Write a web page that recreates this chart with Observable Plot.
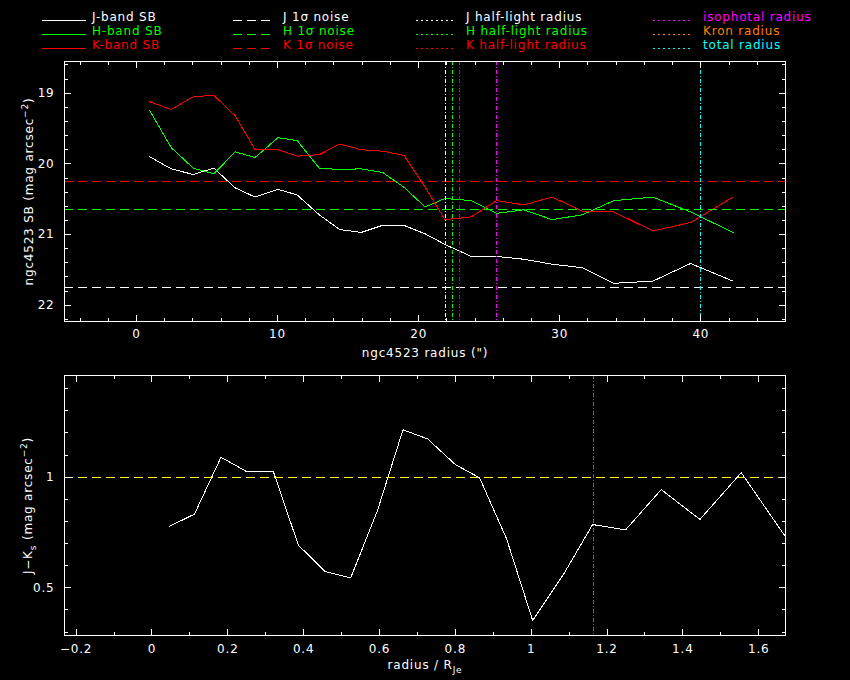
<!DOCTYPE html>
<html><head><meta charset="utf-8">
<script src="https://cdn.jsdelivr.net/npm/d3@7"></script>
<script src="https://cdn.jsdelivr.net/npm/@observablehq/plot@0.6"></script>
<style>
html,body{margin:0;padding:0;background:#000;}
#wrap{width:850px;height:680px;background:#000;overflow:hidden;}
svg{display:block;}
</style></head>
<body><div id="wrap"></div>
<script>
// ---------- data ----------
const radius = [0.94, 2.46, 4.02, 5.48, 7.0, 8.41, 10.02, 11.39, 12.95, 14.41, 15.93, 17.44, 18.95, 20.46, 21.86, 23.73, 25.52, 27.46, 29.46, 31.6, 33.84, 36.6, 39.27, 42.29];
const jSB = [19.90, 20.07, 20.15, 20.06, 20.34, 20.47, 20.36, 20.44, 20.72, 20.93, 20.97, 20.87, 20.87, 20.99, 21.14, 21.31, 21.31, 21.35, 21.42, 21.47, 21.69, 21.66, 21.41, 21.66];
const hSB = [19.245, 19.77, 20.06, 20.14, 19.83, 19.91, 19.63, 19.67, 20.06, 20.08, 20.07, 20.12, 20.33, 20.61, 20.49, 20.52, 20.70, 20.65, 20.79, 20.72, 20.52, 20.47, 20.68, 20.97];
const kSB = [19.12, 19.23, 19.05, 19.03, 19.32, 19.80, 19.80, 19.89, 19.87, 19.72, 19.80, 19.82, 19.88, 20.33, 20.79, 20.75, 20.52, 20.58, 20.47, 20.67, 20.68, 20.95, 20.83, 20.47];
const noiseJ = 21.75, noiseH = 20.65, noiseK = 20.25;
const halfLightJ = 21.9, halfLightH = 22.37, halfLightK = 22.87;
const isophotalRadius = 25.49, kronRadius = 40.0, totalRadius = 40.0;

const radiusNorm = [0.045, 0.112, 0.182, 0.249, 0.320, 0.386, 0.457, 0.524, 0.594, 0.662, 0.727, 0.800, 0.864, 0.935, 1.004, 1.085, 1.162, 1.249, 1.343, 1.445, 1.554, 1.671];
const jMinusK = [0.777, 0.833, 1.090, 1.026, 1.026, 0.693, 0.573, 0.545, 0.846, 1.214, 1.173, 1.057, 0.997, 0.722, 0.352, 0.56, 0.786, 0.762, 0.944, 0.809, 1.020, 0.73];
const colourRef = 1.0;
const isophotalNorm = 1.164;

const sbXTicks = [0, 10, 20, 30, 40];
const sbYTicks = [19, 20, 21, 22];
const cXTicks = [-0.2, 0, 0.2, 0.4, 0.6, 0.8, 1, 1.2, 1.4, 1.6];
const cYTicks = [0.5, 1];

const legendCol1 = ["J-band SB", "H-band SB", "K-band SB"];
const legendCol2 = ["J 1σ noise", "H 1σ noise", "K 1σ noise"];
const legendCol3 = ["J half-light radius", "H half-light radius", "K half-light radius"];
const legendCol4 = ["isophotal radius", "Kron radius", "total radius"];

// ---------- styles ----------
const WHITE = "#ffffff", GREEN = "#00ff00", RED = "#ff0000", MAGENTA = "#ff00ff", ORANGE = "#ff8000", CYAN = "#00ffff", YELLOW = "#ffff00";
const FONT = "DejaVu Sans";
const DASH = "9,5", DOT = "4,2,1,2";
const CRISP = "crispEdges";
const baseStyle = {background: "#000", color: "#fff", fontFamily: FONT, fontSize: "12px", letterSpacing: "0.8px", overflow: "visible"};
const fmt = d => String(d).replace("-", "−");

const wrap = d3.select("#wrap");

// ---------- legend ----------
const leg = wrap.append("svg").attr("width", 850).attr("height", 60)
  .style("font-family", FONT).style("font-size", "12px").style("letter-spacing", "0.8px");
const rowColors = [WHITE, GREEN, RED];
const cols = [
  {labels: legendCol1, colors: rowColors, x0: 42, x1: 86, tx: 92, dash: null},
  {labels: legendCol2, colors: rowColors, x0: 233, x1: 271, tx: 283, dash: DASH},
  {labels: legendCol3, colors: rowColors, x0: 416, x1: 456, tx: 466, dash: "2,3"},
  {labels: legendCol4, colors: [MAGENTA, ORANGE, CYAN], x0: 653, x1: 693, tx: 703, dash: "2,3"}
];
const rowY = [20.5, 34.5, 48.5];
cols.forEach(c => c.labels.forEach((lab, i) => {
  leg.append("line").attr("x1", c.x0).attr("x2", c.x1).attr("y1", rowY[i]).attr("y2", rowY[i])
    .attr("stroke", c.colors[i]).attr("stroke-width", 1).attr("stroke-dasharray", c.dash)
    .attr("shape-rendering", CRISP);
  leg.append("text").attr("x", c.tx).attr("y", rowY[i] + 0.5).attr("fill", c.colors[i]).text(lab);
}));

// ---------- helpers ----------
const tickShape = {draw(ctx, l) { ctx.moveTo(0, 0); ctx.lineTo(0, -l); }};
function frameTicks(xMaj, xMin, yMaj, yMin) {
  const v = (data, o) => Plot.vector(data, {shape: tickShape, anchor: "start", stroke: WHITE, strokeWidth: 1, shapeRendering: CRISP, ...o});
  const m = [];
  for (const [vals, len] of [[xMaj, 6.5], [xMin, 3.5]]) {
    m.push(v(vals, {x: d => d, frameAnchor: "bottom", length: len, rotate: 0}));
    m.push(v(vals, {x: d => d, frameAnchor: "top", length: len, rotate: 180}));
  }
  for (const [vals, len] of [[yMaj, 6.5], [yMin, 3.5]]) {
    m.push(v(vals, {y: d => d, frameAnchor: "left", length: len, rotate: 90}));
    m.push(v(vals, {y: d => d, frameAnchor: "right", length: len, rotate: -90}));
  }
  return m;
}
const notIn = arr => d => !arr.some(a => Math.abs(a - d) < 1e-6);
function richText(svg) {
  d3.select(svg).selectAll("text").each(function () {
    const s = this.textContent;
    if (!/[\^_]\{/.test(s)) return;
    const el = d3.select(this);
    el.text(null);
    const re = /([\^_])\{([^}]*)\}/g;
    let last = 0, cur = 0, m;
    while ((m = re.exec(s))) {
      if (m.index > last) { el.append("tspan").attr("dy", -cur || null).text(s.slice(last, m.index)); cur = 0; }
      const target = m[1] === "^" ? -5 : 4;
      el.append("tspan").attr("dy", target - cur).attr("font-size", "9px").text(m[2]);
      cur = target; last = re.lastIndex;
    }
    if (last < s.length) el.append("tspan").attr("dy", -cur || null).text(s.slice(last));
  });
}
// snap the reference rules onto whole pixels so the 1px dashes stay fully coloured
function snapRules(svg) {
  d3.select(svg).selectAll('g[aria-label="rule"] line').each(function () {
    const el = d3.select(this);
    for (const [a, b] of [["x1", "x2"], ["y1", "y2"]]) {
      const v1 = +el.attr(a), v2 = +el.attr(b);
      if (el.attr(a) != null && v1 === v2) { const r = Math.round(v1); el.attr(a, r).attr(b, r); }
    }
  });
}

// ---------- top panel ----------
const sbTable = vals => radius.map((r, i) => ({r, v: vals[i]}));
const sbXMinor = d3.range(-4, 46, 2).filter(notIn(sbXTicks));
const sbYMinor = d3.range(18.6, 22.21, 0.2).map(d => +d.toFixed(1)).filter(notIn(sbYTicks));

const topChart = Plot.plot({
  width: 850, height: 310,
  marginTop: 1, marginBottom: 49, marginLeft: 64, marginRight: 65,
  style: baseStyle,
  x: {domain: [-5.1, 46.0], axis: null},
  y: {domain: [18.551, 22.231], reverse: true, axis: null},
  marks: [
    Plot.line(sbTable(jSB), {x: "r", y: "v", stroke: WHITE, strokeWidth: 1, shapeRendering: CRISP}),
    Plot.line(sbTable(hSB), {x: "r", y: "v", stroke: GREEN, strokeWidth: 1, shapeRendering: CRISP}),
    Plot.line(sbTable(kSB), {x: "r", y: "v", stroke: RED, strokeWidth: 1, shapeRendering: CRISP}),
    Plot.ruleY([noiseJ], {stroke: WHITE, strokeDasharray: DASH, shapeRendering: CRISP}),
    Plot.ruleY([noiseH], {stroke: GREEN, strokeDasharray: DASH, shapeRendering: CRISP}),
    Plot.ruleY([noiseK], {stroke: RED, strokeDasharray: DASH, shapeRendering: CRISP}),
    Plot.ruleX([halfLightJ], {stroke: WHITE, strokeDasharray: DOT, shapeRendering: CRISP}),
    Plot.ruleX([halfLightH], {stroke: GREEN, strokeDasharray: DOT, shapeRendering: CRISP}),
    Plot.ruleX([halfLightK], {stroke: RED, strokeDasharray: DOT, shapeRendering: CRISP}),
    Plot.ruleX([isophotalRadius], {stroke: MAGENTA, strokeDasharray: DOT, shapeRendering: CRISP}),
    Plot.ruleX([kronRadius], {stroke: ORANGE, strokeDasharray: DOT, shapeRendering: CRISP}),
    Plot.ruleX([totalRadius], {stroke: CYAN, strokeDasharray: DOT, shapeRendering: CRISP}),
    Plot.frame({stroke: WHITE, shapeRendering: CRISP}),
    ...frameTicks(sbXTicks, sbXMinor, sbYTicks, sbYMinor),
    Plot.axisX({ticks: sbXTicks, tickSize: 0, tickPadding: 8, label: null, fill: WHITE, tickFormat: fmt}),
    Plot.axisY({ticks: sbYTicks, tickSize: 0, tickPadding: 10, label: null, fill: WHITE, tickFormat: fmt}),
    Plot.text(["ngc4523 radius (\")"], {text: d => d, frameAnchor: "bottom", textAnchor: "middle", dy: 35, lineAnchor: "bottom", fill: WHITE}),
    Plot.text(["ngc4523 SB (mag arcsec^{−2})"], {text: d => d, frameAnchor: "left", textAnchor: "middle", dx: -32, rotate: -90, lineAnchor: "bottom", fill: WHITE})
  ]
});
richText(topChart);
snapRules(topChart);
wrap.node().appendChild(topChart);

// ---------- bottom panel ----------
const colourTable = radiusNorm.map((r, i) => ({r, v: jMinusK[i]}));
const cXMinor = d3.range(-0.1, 1.66, 0.2).map(d => +d.toFixed(1));
const cYMinor = d3.range(0.3, 1.45, 0.1).map(d => +d.toFixed(1)).filter(notIn(cYTicks));

const botChart = Plot.plot({
  width: 850, height: 310,
  marginTop: 5, marginBottom: 45, marginLeft: 64, marginRight: 65,
  style: baseStyle,
  x: {domain: [-0.2307, 1.6707], axis: null},
  y: {domain: [0.2845, 1.4596], axis: null},
  marks: [
    Plot.ruleY([colourRef], {stroke: YELLOW, strokeDasharray: DASH, shapeRendering: CRISP}),
    Plot.ruleX([isophotalNorm], {stroke: MAGENTA, strokeDasharray: DOT, shapeRendering: CRISP}),
    Plot.line(colourTable, {x: "r", y: "v", stroke: WHITE, strokeWidth: 1, clip: true, shapeRendering: CRISP}),
    Plot.frame({stroke: WHITE, shapeRendering: CRISP}),
    ...frameTicks(cXTicks, cXMinor, cYTicks, cYMinor),
    Plot.axisX({ticks: cXTicks, tickSize: 0, tickPadding: 9, label: null, fill: WHITE, tickFormat: fmt}),
    Plot.axisY({ticks: cYTicks, tickSize: 0, tickPadding: 10, label: null, fill: WHITE, tickFormat: fmt}),
    Plot.text(["radius / R_{Je}"], {text: d => d, frameAnchor: "bottom", textAnchor: "middle", dy: 33, lineAnchor: "bottom", fill: WHITE}),
    Plot.text(["J−K_{s} (mag arcsec^{−2})"], {text: d => d, frameAnchor: "left", textAnchor: "middle", dx: -33, rotate: -90, lineAnchor: "bottom", fill: WHITE})
  ]
});
richText(botChart);
snapRules(botChart);
wrap.node().appendChild(botChart);
</script>
</body></html>
